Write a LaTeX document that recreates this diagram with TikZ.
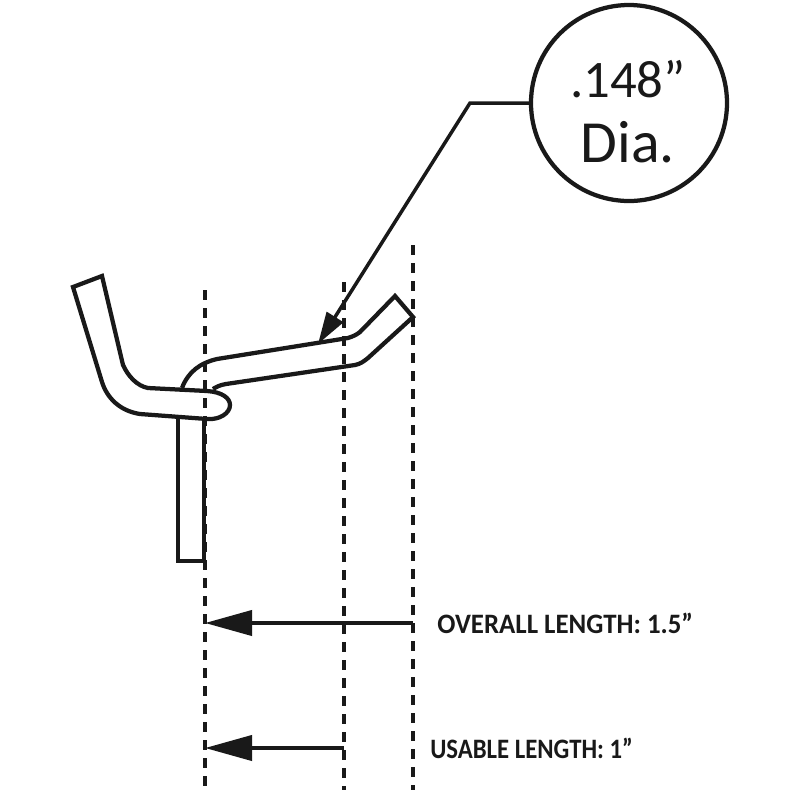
\documentclass[tikz,border=0pt]{standalone}
\usepackage{fontspec}
\setmainfont{Carlito}
\usetikzlibrary{arrows.meta, positioning}

\tikzset{
  wire/.style={line width=0.85mm, line join=miter, black!90},
  guide/.style={line width=0.68mm, black!90, dash pattern=on 2mm off 1.6mm},
  dimarrow/.style={line width=0.8mm, black!90, -{Triangle[length=9.4mm,width=5mm]}},
  leader/.style={line width=0.7mm, black!90, -{Triangle[length=6.4mm,width=3.8mm]}},
  dimlabel/.style={font=\fontsize{16}{18}\selectfont\bfseries, text=black!90, inner sep=0pt, anchor=west, transform shape},
  callout/.style={shape=circle, draw=black!90, line width=0.85mm, minimum size=39.2mm, inner sep=0pt},
  calltext/.style={inner sep=0pt, anchor=base, text=black!90}
}

\begin{document}
\begin{tikzpicture}[x=0.2mm, y=-0.2mm]
    \useasboundingbox (0,0) rectangle (800,800);

    \coordinate (inner top) at (205,290);
    \coordinate (inner bot) at (205,790);
    \coordinate (usable top) at (344,282);
    \coordinate (usable bot) at (344,790);
    \coordinate (outer top) at (413,245);
    \coordinate (outer bot) at (413,790);

    \draw[guide] (inner top) -- (inner bot);
    \draw[guide] (usable top) -- (usable bot);
    \draw[guide] (outer top) -- (outer bot);

    % hook
    \draw[wire] (73,287) -- (102,276) -- (123,365)
      .. controls (128,376) and (137,386) .. (148,388) -- (207,391)
      .. controls (222,392) and (230,398) .. (230,405)
      .. controls (230,413) and (220,420) .. (207,419) -- (140,414)
      .. controls (120,411) and (107,398) .. (102,382) -- cycle;
    \draw[wire] (182,388) .. controls (188,372) and (200,363) .. (217,359)
      -- (348,338) .. controls (354,336) and (356,335) .. (360,332)
      -- (395,296) -- (413,317) -- (368,358)
      .. controls (363,362) and (360,364) .. (355,365)
      -- (226,384) .. controls (220,385) and (216,387) .. (213,389);
    \draw[wire] (178,418) -- (178,561) -- (204,561) -- (204,420);

    % dia callout
    \node[callout] (dia) at (629,103) {};
    \node[calltext, font=\fontsize{30}{32}\selectfont] (size) at (628,97) {.148\char"201D};
    \node[calltext, font=\fontsize{34}{36}\selectfont] (diatext) at (628,162) {Dia.};
    \coordinate (bend) at (470,103);
    \coordinate (wire pt) at (318,344);
    \draw[leader] (dia.west) -- (bend) -- (wire pt);

    % lengths
    \coordinate (overall l) at (205,623);
    \coordinate (overall r) at (413,623);
    \coordinate (usable l) at (205,748);
    \coordinate (usable r) at (344,748);
    \draw[dimarrow] (overall r) -- (overall l);
    \draw[dimarrow] (usable r) -- (usable l);

    \node[dimlabel, xscale=.955] (overall) at (437,623) {OVERALL LENGTH: 1.5\char"201D};
    \node[dimlabel, xscale=.88] (usable) at (430,748) {USABLE LENGTH: 1\char"201D};
\end{tikzpicture}
\end{document}
